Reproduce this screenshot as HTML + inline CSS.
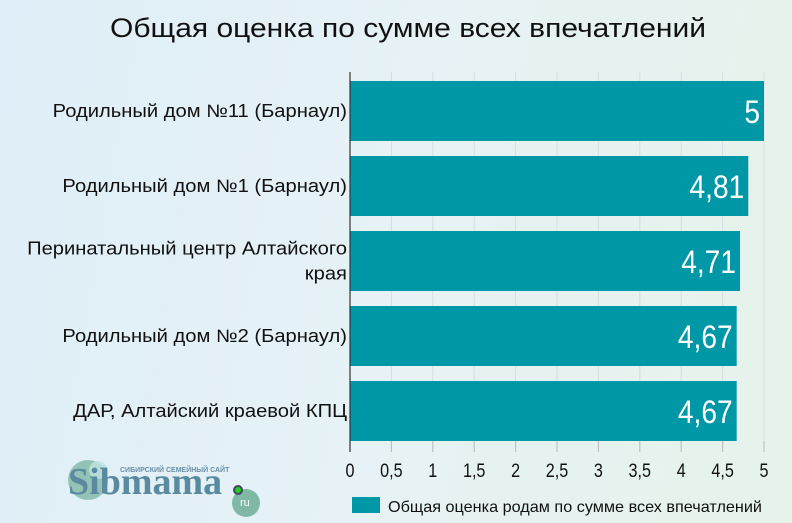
<!DOCTYPE html>
<html><head><meta charset="utf-8"><style>
body{margin:0;width:792px;height:523px;overflow:hidden;font-family:"Liberation Sans",sans-serif;}
#bg{position:absolute;left:0;top:0;width:792px;height:523px;background:linear-gradient(100deg,#dfeef8 0%,#e6f2f5 50%,#e6f3ea 100%);}
</style></head><body>
<div id="bg"></div>
<svg id="c" width="792" height="523" style="position:absolute;left:0;top:0">
<text x="408" y="37" font-size="27" text-anchor="middle" fill="#111" textLength="596" lengthAdjust="spacingAndGlyphs">Общая оценка по сумме всех впечатлений</text>
<g id="grid"></g><g id="bars"></g><g id="xt"></g><g id="yl"></g>
<line x1="350" y1="72" x2="350" y2="452" stroke="#333" stroke-width="1.2"/>
<g>
<circle cx="88" cy="480" r="20" fill="#7fb8a4" opacity="0.8"/>
<circle cx="98" cy="470" r="9" fill="#bfe3e0" opacity="0.8"/>
<circle cx="246" cy="503" r="14" fill="#7fb8a4"/>
<text x="120" y="472" font-size="7" fill="#6a8fa8" font-weight="bold">СИБИРСКИЙ СЕМЕЙНЫЙ САЙТ</text>
<text x="68" y="494" font-size="38" font-family="Liberation Serif,serif" font-weight="bold" fill="#5a8aa0">Sibmama</text>
<circle cx="238" cy="490" r="4" fill="#22cc22" stroke="#446" stroke-width="2"/>
<text x="240" y="506" font-size="11" fill="#fff">ru</text>
</g>
<rect x="352" y="497" width="28" height="16" fill="#0097a7"/>
<text x="388" y="512" font-size="16" fill="#111" textLength="374" lengthAdjust="spacingAndGlyphs">Общая оценка родам по сумме всех впечатлений</text>
</svg>
<script>
const categories=[["Родильный дом №11 (Барнаул)"],["Родильный дом №1 (Барнаул)"],["Перинатальный центр Алтайского","края"],["Родильный дом №2 (Барнаул)"],["ДАР, Алтайский краевой КПЦ"]];
const values=[5,4.81,4.71,4.67,4.67];
const valueLabels=["5","4,81","4,71","4,67","4,67"];
const ticks=[0,0.5,1,1.5,2,2.5,3,3.5,4,4.5,5];
const tickLabels=["0","0,5","1","1,5","2","2,5","3","3,5","4","4,5","5"];
const NS="http://www.w3.org/2000/svg";
const x=v=>350+v*82.8;
const y=i=>81+i*75;
function mk(tag,attrs,parent,txt){const e=document.createElementNS(NS,tag);for(const k in attrs)e.setAttribute(k,attrs[k]);if(txt!=null)e.textContent=txt;document.getElementById(parent).appendChild(e);return e;}
ticks.forEach((t,i)=>{
 const g=mk("line",{x1:x(t),x2:x(t),y1:72,y2:452,stroke:"#d6dde0","stroke-width":1},"grid");
 
 
 const tm=mk("line",{x1:x(t),x2:x(t),y1:441,y2:452,stroke:"#bbb","stroke-width":1},"grid");
 
 
 const tl=mk("text",{x:x(t),y:477,"font-size":19,"text-anchor":"middle",fill:"#111",transform:`translate(${x(t)},0) scale(0.85,1) translate(${-x(t)},0)`},"xt",tickLabels[i]);
 
 
});
values.forEach((v,i)=>{
 const b=mk("rect",{x:350,y:y(i),width:x(v)-350,height:60,fill:"#0097a7"},"bars");
 
 
 const xe=x(v)-4;
 const vl=mk("text",{x:xe,y:y(i)+42,"font-size":32,"text-anchor":"end",fill:"#fff",transform:`translate(${xe},0) scale(0.88,1) translate(${-xe},0)`},"bars",valueLabels[i]);
 
 
 const lines=categories[i];
 lines.forEach((ln,j)=>{
  const cy=y(i)+30+(j-(lines.length-1)/2)*25+6;
  const c=mk("text",{x:347,y:cy,"font-size":18,"text-anchor":"end",fill:"#111","lengthAdjust":"spacingAndGlyphs"},"yl",ln);
  c.setAttribute("textLength",c.getComputedTextLength()*1.12);
  
  
 });
});
</script>
</body></html>
